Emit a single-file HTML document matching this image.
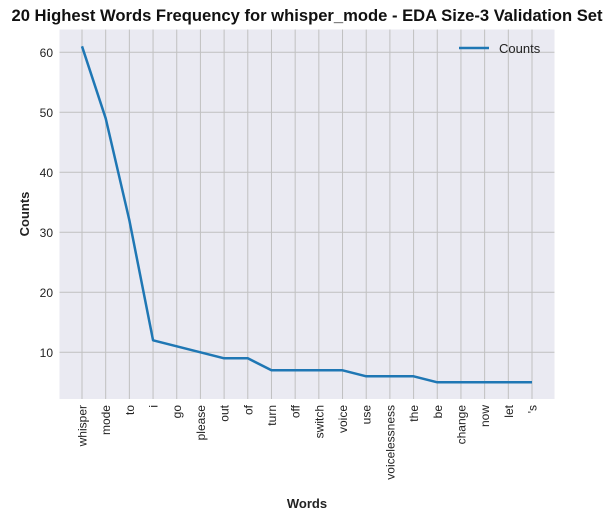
<!DOCTYPE html>
<html><head><meta charset="utf-8"><style>
body{margin:0;background:#fff;}
svg{display:block;font-family:"Liberation Sans",Arial,sans-serif;}
</style></head><body>
<svg id="c" width="613" height="520">
<rect x="59.5" y="29.5" width="495" height="369.5" fill="#eaeaf2"/>
<g id="grid"></g>
<g id="ticks"></g>
<polyline id="line" fill="none" stroke="#1f77b4" stroke-width="2.5" stroke-linejoin="round"/>
<text x="307" y="21" text-anchor="middle" font-size="16.6" font-weight="bold" fill="#111">20 Highest Words Frequency for whisper_mode - EDA Size-3 Validation Set</text>
<text x="307" y="508" text-anchor="middle" font-size="13" font-weight="bold" fill="#222">Words</text>
<text transform="translate(29,214) rotate(-90)" text-anchor="middle" font-size="13" font-weight="bold" fill="#222">Counts</text>
<g>
<line x1="459" y1="48" x2="489" y2="48" stroke="#1f77b4" stroke-width="2.5"/>
<text x="499" y="53" font-size="13" fill="#222">Counts</text>
</g>
</svg>
<script>
const categories=["whisper","mode","to","i","go","please","out","of","turn","off","switch","voice","use","voicelessness","the","be","change","now","let","'s"];
const counts=[61,49,32,12,11,10,9,9,7,7,7,7,6,6,6,5,5,5,5,5];
const yTicks=[10,20,30,40,50,60];
const NS="http://www.w3.org/2000/svg";
const x0=82,step=(532-82)/19;
function xs(i){return x0+i*step;}
function ys(v){return 412.3-v*6;}
const grid=document.getElementById('grid'),ticks=document.getElementById('ticks');
function mk(tag,attrs,parent){const e=document.createElementNS(NS,tag);for(const k in attrs)e.setAttribute(k,attrs[k]);parent.appendChild(e);return e;}
yTicks.forEach(v=>{
 const l=mk('line',{x1:59.5,x2:554.5,y1:ys(v),y2:ys(v),stroke:'#c0c0c0','stroke-width':1},grid);
 
 
 const t=mk('text',{x:53,y:ys(v)+4.5,'text-anchor':'end','font-size':12,fill:'#222'},ticks);
 t.textContent=v;
 
 
});
categories.forEach((c,i)=>{
 const l=mk('line',{x1:xs(i),x2:xs(i),y1:29.5,y2:399,stroke:'#c0c0c0','stroke-width':1},grid);
 
 
 const t=mk('text',{transform:`translate(${xs(i)+4.5},405) rotate(-90)`,'text-anchor':'end','font-size':12,fill:'#222'},ticks);
 t.textContent=c;
 
 
});
document.getElementById('line').setAttribute('points',counts.map((v,i)=>xs(i)+','+ys(v)).join(' '));
</script>
</body></html>
